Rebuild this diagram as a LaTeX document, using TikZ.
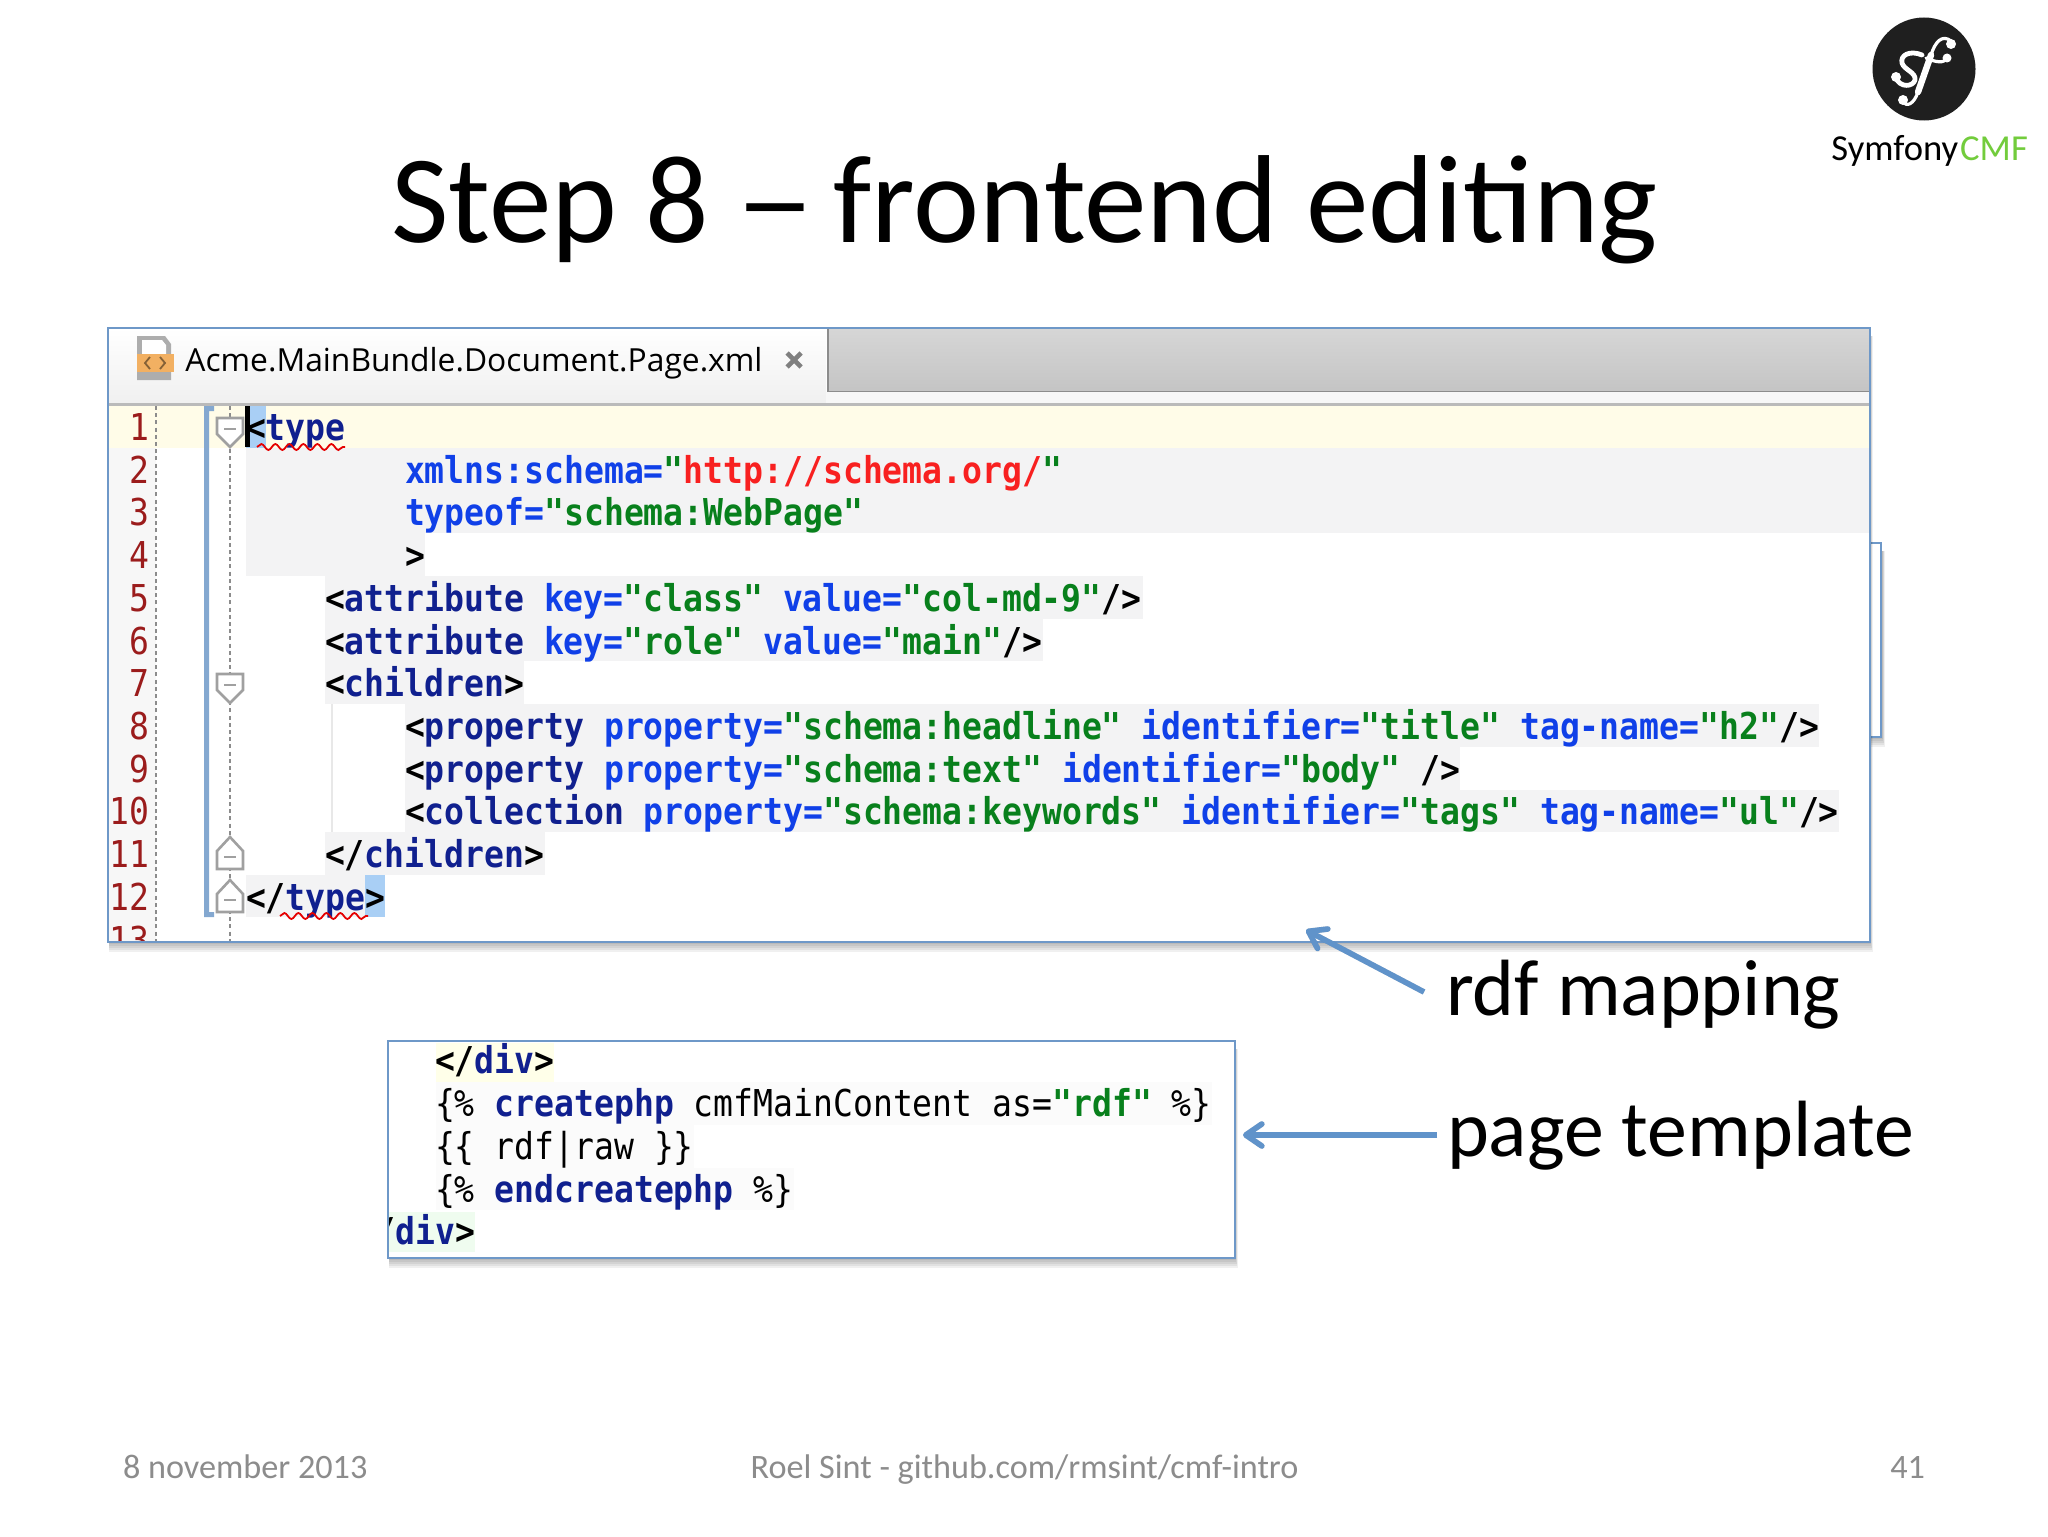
\documentclass[tikz,border=0pt]{standalone}
\usepackage{fontspec}
\setmainfont{Carlito}
\newfontfamily\codef[FakeStretch=0.894]{DejaVu Sans Mono}
\newfontfamily\tabf{Open Sans}
\usetikzlibrary{arrows.meta,decorations.pathmorphing}
\definecolor{cnavy}{HTML}{10208F}
\definecolor{cattr}{HTML}{1040E8}
\definecolor{cval}{HTML}{08801C}
\definecolor{clink}{HTML}{F82020}
\definecolor{cnum}{HTML}{9B1C1C}
\definecolor{frameblue}{HTML}{6E98C8}
\definecolor{arrowblue}{HTML}{6093CA}
\definecolor{codebg}{HTML}{F3F3F4}
\definecolor{caretrow}{HTML}{FFFCE8}
\definecolor{selblue}{HTML}{A9CFF5}
\definecolor{foot}{HTML}{8C8C8C}
\definecolor{foldgray}{HTML}{A0A0A0}
\definecolor{tplyellow}{HTML}{FFFFE9}
\definecolor{tplgray}{HTML}{FBFBFB}
\definecolor{tplgreen}{HTML}{EFFCEF}
\definecolor{barback}{HTML}{D6D6D6}
\definecolor{barfront}{HTML}{C4C4C4}
\definecolor{iconorange}{HTML}{F2B062}
\newcommand\cT[1]{{\bfseries\color{cnavy}#1}}
\newcommand\cA[1]{{\bfseries\color{cattr}#1}}
\newcommand\cV[1]{{\bfseries\color{cval}#1}}
\newcommand\cL[1]{{\bfseries\color{clink}#1}}
\newcommand\cS[1]{{\bfseries\color{black}#1}}
\newcommand\cN[1]{{\mdseries\color{black}#1}}
\tikzset{
  codeline/.style={anchor=base west,inner sep=0pt,outer sep=0pt,font=\codef\fontsize{18.5}{18.5}\selectfont},
  numline/.style={anchor=base east,inner sep=0pt,outer sep=0pt,text=cnum,font=\codef\fontsize{18.5}{18.5}\selectfont},
  label/.style={anchor=base west,inner sep=0pt,outer sep=0pt,text=black,font=\fontsize{39.9}{40}\selectfont},
  footer/.style={inner sep=0pt,outer sep=0pt,text=foot,font=\fontsize{17.1}{17.2}\selectfont},
  bluearrow/.style={draw=arrowblue,line width=2.8pt,-{Straight Barb[length=8pt,width=11pt,line width=2.8pt,round]}},
  arrowshade/.style={draw=black,draw opacity=0.14,line width=2.8pt,-{Straight Barb[length=8pt,width=11pt,line width=2.8pt,round]}},
  foldmark/.style={draw=foldgray,fill=white,line width=1.3pt},
  wavy/.style={draw=red!90!black,line width=0.9pt,decorate,decoration={snake,amplitude=1.5pt,segment length=7pt}},
  framebox/.style={draw=frameblue,line width=1pt,fill=white},
  whitef/.style={draw=white,line cap=round,line join=round},
}
\newcommand\softshadow[4]{\foreach \d in {2,4,6,8,10}{\fill[black,opacity=0.06] (#1+1,#2+8) rectangle (#3+\d/4,#4+\d);}}
\newcommand\foldDown[1]{\path[foldmark] (217,#1-9) -- (243,#1-9) -- (243,#1+7) -- (230,#1+20) -- (217,#1+7) -- cycle; \draw[foldgray,line width=1.3pt] (224,#1+2) -- (236,#1+2);}
\newcommand\foldUp[1]{\path[foldmark] (217,#1+15) -- (243,#1+15) -- (243,#1-3) -- (230,#1-17) -- (217,#1-3) -- cycle; \draw[foldgray,line width=1.3pt] (224,#1+3) -- (236,#1+3);}
\begin{document}
\begin{tikzpicture}[x=0.5pt,y=-0.5pt]
\useasboundingbox[fill=white] (0,0) rectangle (2048,1536);
% logo
\fill[black!88] (1924,69) circle (51.5);
\path[whitef,line width=1.6pt] (1951,41) .. controls (1942,34) and (1935,42) .. (1931,55);
\path[whitef,line width=3.2pt] (1931,55) -- (1918,92);
\path[whitef,line width=1.6pt] (1918,92) .. controls (1914,104) and (1906,108) .. (1903,101);
\path[whitef,line width=1.6pt] (1947,58) .. controls (1944,64) and (1935,62) .. (1926,58);
\path[whitef,line width=2.4pt] (1922,55) .. controls (1910,50) and (1900,55) .. (1902,63) .. controls (1904,70) and (1916,72) .. (1915,80) .. controls (1913,87) and (1900,88) .. (1896,78);
\fill[white] (1951,44) circle (5) (1947,58) circle (4.5) (1903,100) circle (5) (1896,77) circle (5);
\node[anchor=base west,inner sep=0pt,font=\fontsize{18.3}{18.3}\selectfont] (logotext) at (1831,160) {Symfony\hspace{1pt}\textcolor[HTML]{72CC3C}{CMF}};
% title
\node[anchor=base,inner sep=0pt,font=\fontsize{62.6}{62.6}\selectfont] (title) at (1024.6,242) {Step 8 \hspace{-1pt}\scalebox{1.28}[1]{–}\hspace{-5pt} frontend editing};
% back window edge
\softshadow{1600}{543}{1882}{737}
\path[framebox] (1600,543) rectangle (1881,737);
% main window
\softshadow{108}{328}{1870}{942}
\path[framebox] (108,328) rectangle (1870,942);
\begin{scope}
\clip (108,328) rectangle (1870,942);
\shade[top color=white,bottom color=black!6] (108,328) rectangle (826,403);
\shade[top color=barback,bottom color=barfront] (828,329) rectangle (1870,392);
\draw[black!45,line width=1pt] (828,329) -- (828,392) -- (1870,392);
\fill[black!3] (826,392) rectangle (1870,403);
\fill[black!27] (108,403) rectangle (1870,406);
% icon
\fill[black!32] (137,336) -- (165,336) -- (171,344) -- (171,380) -- (137,380) -- cycle;
\fill[white] (142,340) -- (162,340) -- (166,345) -- (166,354) -- (142,354) -- cycle;
\fill[iconorange] (137,354) rectangle (174,372);
\draw[black!45!iconorange,line width=0.9pt] (150,357) -- (145,363) -- (150,369) (160,357) -- (165,363) -- (160,369);
\node[anchor=base west,inner sep=0pt,font=\tabf\fontsize{15.9}{15.9}\selectfont] (tabname) at (185,371) {Acme.MainBundle.Document.Page.xml};
\draw[black!50,line width=2.3pt] (787,353) -- (801,367) (801,353) -- (787,367);
% rows
\fill[black!3] (108,406) rectangle (156,942);
\fill[caretrow] (108,406) rectangle (1870,448);
\fill[codebg] (246,448) rectangle (1870,533);
\fill[codebg] (246,533) rectangle (425,576);
\fill[codebg] (325,576) rectangle (1143,619);
\fill[codebg] (325,619) rectangle (1043,661);
\fill[codebg] (325,661) rectangle (524,704);
\fill[codebg] (405,704) rectangle (1819,747);
\fill[codebg] (405,747) rectangle (1460,790);
\fill[codebg] (405,790) rectangle (1839,832);
\fill[codebg] (325,832) rectangle (545,875);
\fill[codebg] (246,875) rectangle (385,917);
\fill[selblue] (246,406) rectangle (266,448);
\fill[selblue] (365,875) rectangle (385,917);
\fill[black!9] (331,704) rectangle (333,832);
% gutter lines
\draw[black!45,line width=1.2pt,dash pattern=on 2pt off 1.6pt] (156,406) -- (156,942);
\draw[black!45,line width=1.2pt,dash pattern=on 2pt off 1.6pt] (230,406) -- (230,942);
\fill[frameblue!85] (204,406) rectangle (209,917) (204,406) rectangle (214,411) (204,912) rectangle (214,917);
\foldDown{427}\foldDown{683}\foldUp{854}\foldUp{897}
% line numbers
\foreach \n/\yy in {1/440,2/483,3/525,4/568,5/611,6/654,7/696,8/739,9/782,10/824,11/867,12/910,13/953}
  \node[numline] (num\n) at (149,\yy) {\n};
% code
\node[codeline] (l1) at (246,440) {\cS{<}\cT{type}};
\node[codeline] (l2) at (405,483) {\cA{xmlns:schema=}\cV{"}\cL{http://schema.org/}\cV{"}};
\node[codeline] (l3) at (405,525) {\cA{typeof=}\cV{"schema:WebPage"}};
\node[codeline] (l4) at (405,568) {\cS{>}};
\node[codeline] (l5) at (325,611) {\cS{<}\cT{attribute} \cA{key=}\cV{"class"} \cA{value=}\cV{"col-md-9"}\cS{/>}};
\node[codeline] (l6) at (325,654) {\cS{<}\cT{attribute} \cA{key=}\cV{"role"} \cA{value=}\cV{"main"}\cS{/>}};
\node[codeline] (l7) at (325,696) {\cS{<}\cT{children}\cS{>}};
\node[codeline] (l8) at (405,739) {\cS{<}\cT{property} \cA{property=}\cV{"schema:headline"} \cA{identifier=}\cV{"title"} \cA{tag-name=}\cV{"h2"}\cS{/>}};
\node[codeline] (l9) at (405,782) {\cS{<}\cT{property} \cA{property=}\cV{"schema:text"} \cA{identifier=}\cV{"body"} \cS{/>}};
\node[codeline] (l10) at (405,824) {\cS{<}\cT{collection} \cA{property=}\cV{"schema:keywords"} \cA{identifier=}\cV{"tags"} \cA{tag-name=}\cV{"ul"}\cS{/>}};
\node[codeline] (l11) at (325,867) {\cS{</}\cT{children}\cS{>}};
\node[codeline] (l12) at (246,910) {\cS{</}\cT{type}\cS{>}};
\fill[black] (245,406) rectangle (250,447);
\draw[wavy] (257,447) -- (345,447);
\draw[wavy] (280,916) -- (368,916);
\end{scope}
\draw[frameblue,line width=1pt] (108,328) rectangle (1870,942);
% template box
\softshadow{388}{1041}{1235}{1258}
\path[framebox] (388,1041) rectangle (1235,1258);
\begin{scope}
\clip (388,1041) rectangle (1235,1258);
\fill[tplyellow] (436,1043) rectangle (554,1082);
\fill[tplgray] (436,1082) rectangle (1212,1125);
\fill[tplgray] (436,1125) rectangle (694,1168);
\fill[tplgray] (436,1168) rectangle (794,1210);
\fill[tplgreen] (388,1212) rectangle (475,1252);
\node[codeline] (t1) at (435,1073) {\cS{</}\cT{div}\cS{>}};
\node[codeline] (t2) at (435,1116) {\cN{\{\% }\cT{createphp} \cN{cmfMainContent as=}\cV{"rdf"} \cN{\%\}}};
\node[codeline] (t3) at (435,1159) {\cN{\{\{ rdf|raw \}\}}};
\node[codeline] (t4) at (435,1202) {\cN{\{\% }\cT{endcreatephp} \cN{\%\}}};
\node[codeline] (t5) at (356,1244) {\cS{</}\cT{div}\cS{>}};
\end{scope}
\draw[frameblue,line width=1pt] (388,1041) rectangle (1235,1258);
% labels and arrows
\node[label] (lrdf) at (1446,1015) {rdf mapping};
\node[label] (lpage) at (1447,1156) {page template};
\coordinate (rdfstart) at (1424,992);
\coordinate (rdftip) at (1306,930);
\coordinate (pagestart) at (1437,1135);
\coordinate (pagetip) at (1243,1135);
\begin{scope}[yshift=-2pt]
\draw[arrowshade] (rdfstart) -- (rdftip);
\draw[arrowshade] (pagestart) -- (pagetip);
\end{scope}
\draw[bluearrow] (rdfstart) -- (rdftip);
\draw[bluearrow] (pagestart) -- (pagetip);
% footer
\node[footer,anchor=base west] (fdate) at (123,1478) {8 november 2013};
\node[footer,anchor=base] (fmid) at (1024.6,1478) {Roel Sint - github.com/rmsint/cmf-intro};
\node[footer,anchor=base east] (fnum) at (1925,1478) {41};
\end{tikzpicture}
\end{document}
